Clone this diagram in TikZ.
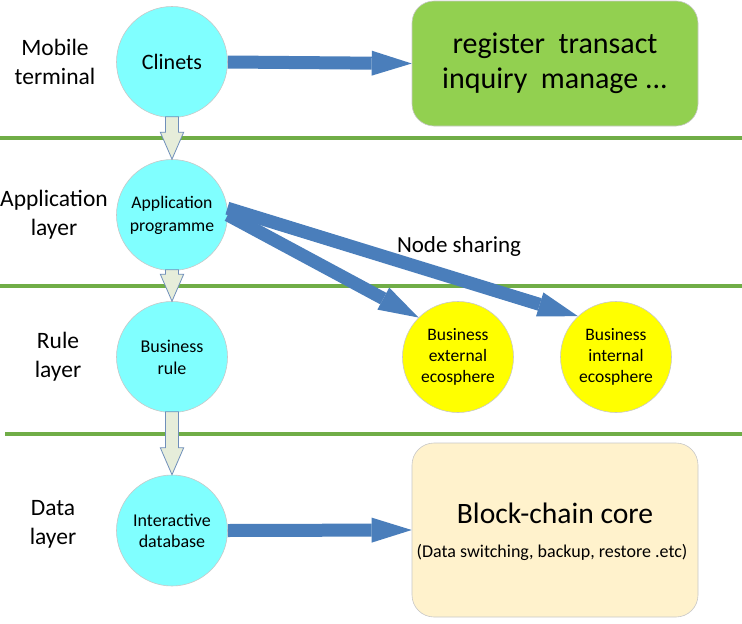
\documentclass[tikz,border=0pt]{standalone}
\usepackage{fontspec}
\setmainfont{Carlito}
\usetikzlibrary{arrows.meta,calc,shapes.geometric}
\definecolor{cyanfill}{HTML}{80FFFF}
\definecolor{yellowfill}{HTML}{FFFF00}
\definecolor{greenbox}{HTML}{92D050}
\definecolor{beigebox}{HTML}{FFF2CC}
\definecolor{bandgreen}{HTML}{70AD47}
\definecolor{blueA}{HTML}{4A7EBB}
\definecolor{lightfill}{HTML}{E6EDDA}
\definecolor{lightedge}{HTML}{6F8FBA}
\definecolor{rimgray}{HTML}{C8C8C8}
\newcommand\downblk[2]{\filldraw[lightarr] let \p1=(#1.south), \p2=(#2.north) in
  (\x1-6.5pt,\y1+1pt) -- (\x1+6.5pt,\y1+1pt) -- (\x1+6.5pt,\y2+27pt) -- (\x1+11.7pt,\y2+27pt)
  -- (\x1,\y2) -- (\x1-11.7pt,\y2+27pt) -- (\x1-6.5pt,\y2+27pt) -- cycle;}
\begin{document}
\begin{tikzpicture}[x=1pt,y=-1pt,
  lbl/.style={align=center,font=\fontsize{23.5}{29}\selectfont},
  circ/.style={circle,draw=rimgray,line width=0.6pt,fill=cyanfill,minimum size=111pt,inner sep=0pt,align=center},
  ycirc/.style={circ,fill=yellowfill,minimum size=111pt,font=\fontsize{17.5}{21}\selectfont},
  rbox/.style={draw=rimgray,line width=0.6pt,rounded corners=22pt,minimum width=286pt,inner sep=0pt,align=center},
  band/.style={draw=bandgreen,line width=4.5pt},
  bluearr/.style={draw=blueA,line width=13pt,-{Triangle[length=40pt,width=25pt,line width=0pt]}},
  lightarr/.style={fill=lightfill,draw=lightedge,line width=0.8pt,line join=miter}
]
\useasboundingbox (0,0) rectangle (742,624);
\fill[white] (0,0) rectangle (742,624);
% bands
\draw[band] (0,138) -- (742,138);
\draw[band] (0,286) -- (742,286);
\draw[band] (5,434) -- (742,434);
% left labels
\node[lbl] (l1) at (55,62) {Mobile\\terminal};
\node[lbl] (l2) at (54,215) {Application\\layer};
\node[lbl] (l3) at (58,357) {Rule\\layer};
\node[lbl] (l4) at (53,524) {Data\\layer};
% circles
\node[circ,font=\fontsize{22}{24}\selectfont] (cl) at (172,62) {Clinets};
\node[circ,font=\fontsize{17.7}{23}\selectfont] (ap) at (172,215) {Application\\programme};
\node[circ,font=\fontsize{18}{22}\selectfont] (br) at (172,357) {Business\\rule};
\node[circ,font=\fontsize{18}{21}\selectfont] (db) at (172,530.5) {Interactive\\database};
\node[ycirc] (ext) at (458,357) {Business\\external\\ecosphere};
\node[ycirc] (int) at (616,357) {Business\\internal\\ecosphere};
% boxes
\node[rbox,fill=greenbox,minimum height=125pt,font=\fontsize{30}{35}\selectfont] (reg) at (555,63.5) {register\ \ transact\\inquiry\ \ manage ...};
\node[rbox,fill=beigebox,minimum height=174pt] (bc) at (555,530) {};
\node[font=\fontsize{29.6}{35}\selectfont] (bct) at (555,513) {Block-chain core};
\node[font=\fontsize{18}{21}\selectfont] (bcs) at (552,552) {(Data switching, backup, restore .etc)};
\node[font=\fontsize{23}{26}\selectfont] (ns) at (459,246) {Node sharing};
% light down arrows
\downblk{cl}{ap}
\downblk{ap}{br}
\downblk{br}{db}
% blue arrows
\draw[bluearr] (cl.east) -- (reg.west);
\draw[bluearr] (db.east) -- (bc.west);
\draw[bluearr] (ap.east) -- (ext.135);
\draw[bluearr] (ap.7) -- (int.133);
\end{tikzpicture}
\end{document}
